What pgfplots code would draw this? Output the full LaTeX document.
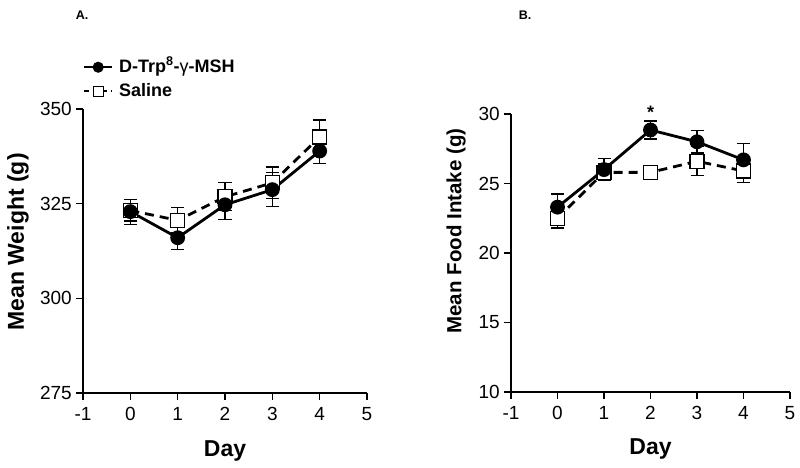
\documentclass[border=0pt]{standalone}
\usepackage{pgfplots}
\pgfplotsset{compat=1.18}
\usepackage{pgfplotstable}
\usepackage{fontspec}
\setmainfont{Liberation Sans}
\pgfplotstableread{
x y e
0 322.9 3.3
1 316.0 3.1
2 324.7 3.8
3 328.7 4.5
4 338.9 3.2
}\wtrp
\pgfplotstableread{
x y e
0 323.2 2.8
1 320.6 3.3
2 326.8 3.7
3 330.5 4.2
4 342.6 4.5
}\wsal
\pgfplotstableread{
x y e
0 23.3 0.95
1 26.0 0.8
2 28.85 0.65
3 28.0 0.8
4 26.7 1.2
}\ftrp
\pgfplotstableread{
x y e
0 22.5 0.7
1 25.8 0.6
2 25.8 0.35
3 26.6 1.05
4 25.9 0.8
}\fsal
\begin{document}
\begin{tikzpicture}[x=1pt,y=1pt]
\useasboundingbox (0,0) rectangle (800,468);
\pgfplotsset{
  panel/.style={
    scale only axis, axis lines=left, axis line style={-, line width=1.2pt},
    every tick/.style={line width=1.2pt, black}, tick align=outside,
    major tick length=7pt,
    xmin=-1, xmax=5, xtick={-1,0,...,5},
    /pgf/number format/assume math mode=true,
    xticklabel={\pgfmathprintnumber{\tick}},
    yticklabel={\pgfmathprintnumber{\tick}},
    every x tick label/.style={font=\fontsize{19}{19}\selectfont, inner sep=2pt, anchor=north, yshift=-5pt},
    every y tick label/.style={font=\fontsize{19}{19}\selectfont, inner sep=2pt, anchor=east, xshift=-2pt},
    xlabel={Day},
    xlabel style={font=\fontsize{23}{23}\selectfont\bfseries, anchor=center},
    clip=false,
  },
  trp/.style={black, line width=2.8pt, mark=*, mark size=6pt, mark options={solid}},
  sal/.style={black, line width=2.8pt, dash pattern=on 9pt off 6pt, mark=square*, mark size=7pt, mark options={solid, fill=white, line width=1.3pt}},
  eb/.style={error bars/.cd, y dir=both, y explicit, error bar style={line width=1.2pt, solid}, error mark options={rotate=90, mark size=6.5pt, line width=1.2pt, solid}},
}
\begin{axis}[panel, at={(83pt,75pt)}, anchor=south west, width=284pt, height=284pt,
  ymin=275, ymax=350, ytick={275,300,325,350},
  ylabel={Mean Weight (g)},
  xlabel style={at={(axis description cs:0.5,-0.204)}},
  ylabel style={font=\fontsize{23}{23}\selectfont\bfseries, anchor=center, at={(axis description cs:-0.229,0.532)}},
  legend style={at={(axis description cs:0.0,1.183)}, anchor=north west, draw=none, fill=none,
    font=\fontsize{18}{18}\selectfont\bfseries, inner sep=0pt, row sep=4pt,
    nodes={inner sep=2pt, text height=13pt, text depth=3pt}},
  legend cell align=left,
  legend image code/.code={\draw[mark repeat=2, mark phase=2, line width=2pt] plot coordinates {(0pt,0pt) (14pt,0pt) (28pt,0pt)};},
]
\addlegendimage{black, line width=2pt, mark=*, mark size=4.5pt, mark options={solid}}
\addlegendentry{\hspace{4pt}D-Trp\textsuperscript{8}-\textmd{γ}-MSH}
\addlegendimage{black, line width=2pt, dash pattern=on 5pt off 4pt, mark=square*, mark size=5pt, mark options={solid, fill=white, line width=1.2pt}}
\addlegendentry{\hspace{4pt}Saline}
\addplot[forget plot, sal, eb] table[x=x, y=y, y error=e] {\wsal};
\addplot[forget plot, trp, eb] table[x=x, y=y, y error=e] {\wtrp};
\end{axis}
\begin{axis}[panel, at={(511pt,76pt)}, anchor=south west, width=279pt, height=278pt,
  ymin=10, ymax=30, ytick={10,15,...,30},
  ylabel={Mean Food Intake (g)},
  xlabel style={at={(axis description cs:0.5,-0.205)}},
  ylabel style={font=\fontsize{20.5}{20.5}\selectfont\bfseries, anchor=center, at={(axis description cs:-0.197,0.579)}},
]
\addplot[sal, eb] table[x=x, y=y, y error=e] {\fsal};
\addplot[trp, eb] table[x=x, y=y, y error=e] {\ftrp};
\node[font=\fontsize{18}{18}\selectfont\bfseries] at (axis cs:2,30.15) {*};
\end{axis}
\node[font=\fontsize{12.5}{12.5}\selectfont\bfseries] at (82,453) {A.};
\node[font=\fontsize{12.5}{12.5}\selectfont\bfseries] at (525,453) {B.};
\end{tikzpicture}
\end{document}
